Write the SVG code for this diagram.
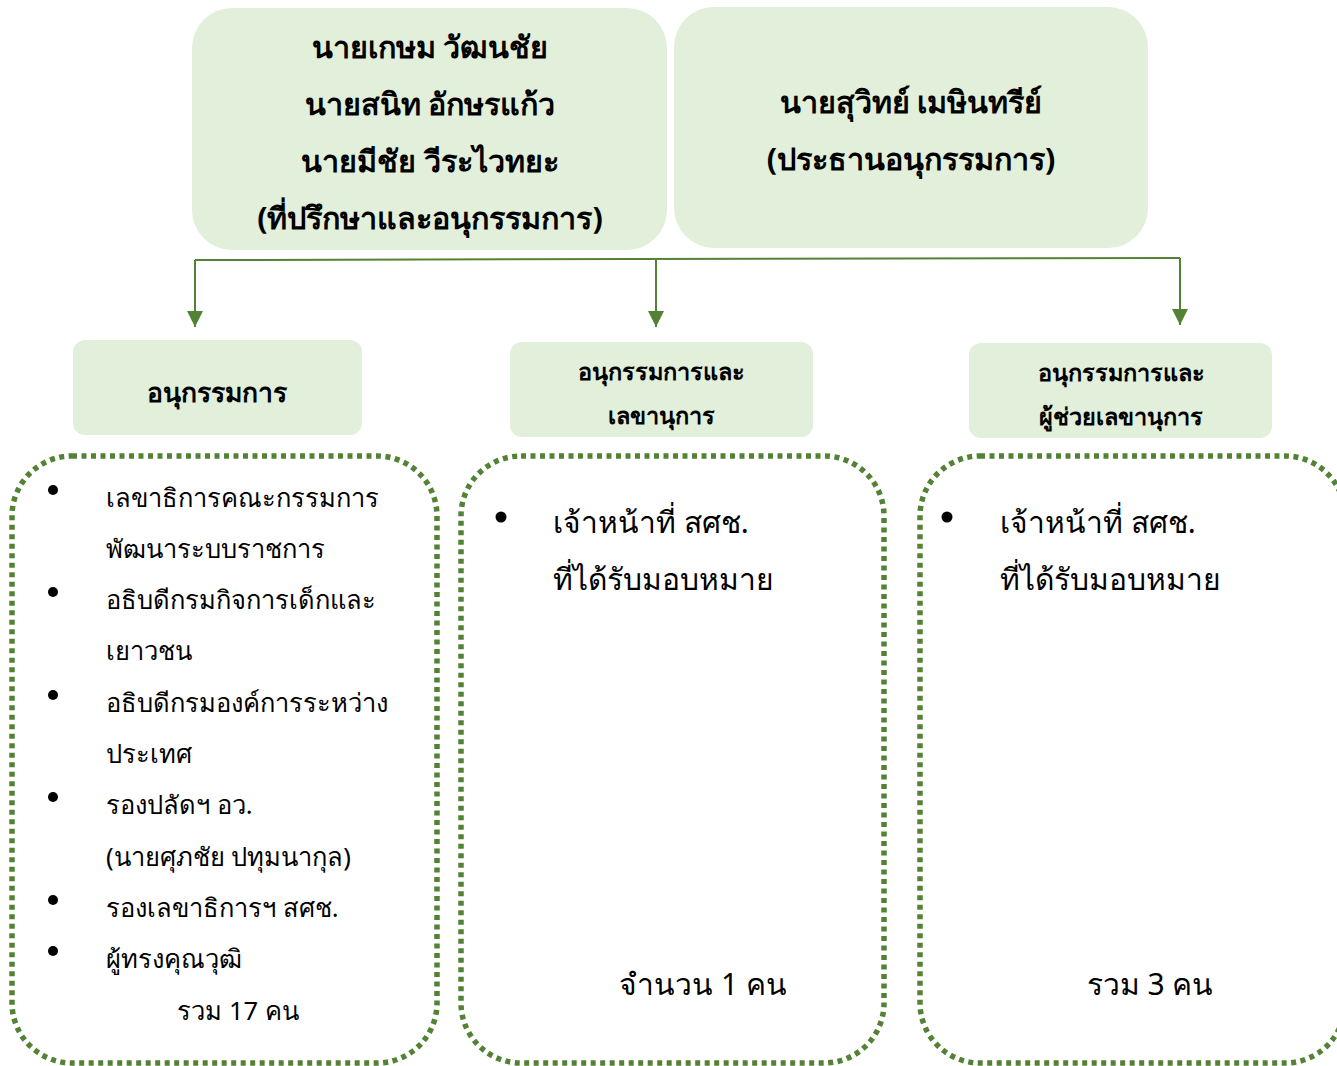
<svg xmlns="http://www.w3.org/2000/svg" width="1337" height="1066" viewBox="0 0 1337 1066">
<defs>
<style>
.top{fill:#e2efda;}
.lbl{fill:#e2efda;}
.dot{fill:none;stroke:#548235;stroke-width:5.5;stroke-dasharray:5 4.5;}
.conn{fill:none;stroke:#548235;stroke-width:2;}
text{font-family:"Noto Sans","DejaVu Sans",sans-serif;fill:#000;}
.tb{font-size:30.5px;font-weight:bold;text-anchor:middle;}
.lb{font-size:23.5px;font-weight:bold;text-anchor:middle;}
.li{font-size:25.5px;}
.mi{font-size:30px;}
</style>
<marker id="ah" viewBox="0 0 10 10" refX="10" refY="5" markerWidth="16" markerHeight="16" markerUnits="userSpaceOnUse" orient="auto">
<path d="M0,0 L10,5 L0,10 Z" fill="#548235"/>
</marker>
</defs>
<rect width="1337" height="1066" fill="#fff"/>
<g id="connectors">
<polyline class="conn" points="195,260 1180,258"/>
<line class="conn" x1="195" y1="260" x2="195" y2="327" marker-end="url(#ah)"/>
<line class="conn" x1="656" y1="260" x2="656" y2="327" marker-end="url(#ah)"/>
<line class="conn" x1="1180" y1="258" x2="1180" y2="325" marker-end="url(#ah)"/>
</g>
<g id="advisors">
<rect class="top" x="192" y="8" width="475" height="242" rx="40"/>
<text class="tb" x="430" y="58">นายเกษม วัฒนชัย</text>
<text class="tb" x="430" y="115">นายสนิท อักษรแก้ว</text>
<text class="tb" x="430" y="172">นายมีชัย วีระไวทยะ</text>
<text class="tb" x="430" y="229">(ที่ปรึกษาและอนุกรรมการ)</text>
</g>
<g id="chair">
<rect class="top" x="674" y="7" width="474" height="241" rx="40"/>
<text class="tb" x="911" y="113">นายสุวิทย์ เมษินทรีย์</text>
<text class="tb" x="911" y="170">(ประธานอนุกรรมการ)</text>
</g>
<g id="members-label">
<rect class="lbl" x="73" y="340" width="289" height="95" rx="12"/>
<text class="lb" x="217" y="402" style="font-size:26.5px">อนุกรรมการ</text>
</g>
<g id="secretary-label">
<rect class="lbl" x="510" y="342" width="303" height="95" rx="12"/>
<text class="lb" x="661" y="380">อนุกรรมการและ</text>
<text class="lb" x="661" y="424">เลขานุการ</text>
</g>
<g id="assistant-label">
<rect class="lbl" x="969" y="343" width="303" height="95" rx="12"/>
<text class="lb" x="1121" y="381">อนุกรรมการและ</text>
<text class="lb" x="1121" y="425">ผู้ช่วยเลขานุการ</text>
</g>
<g id="members-list">
<rect class="dot" x="12" y="456" width="425" height="607" rx="60"/>
<circle cx="53" cy="490" r="5"/>
<text class="li" x="106" y="507">เลขาธิการคณะกรรมการ</text>
<text class="li" x="106" y="558">พัฒนาระบบราชการ</text>
<circle cx="53" cy="592" r="5"/>
<text class="li" x="106" y="609">อธิบดีกรมกิจการเด็กและ</text>
<text class="li" x="106" y="660">เยาวชน</text>
<circle cx="53" cy="695" r="5"/>
<text class="li" x="106" y="712">อธิบดีกรมองค์การระหว่าง</text>
<text class="li" x="106" y="763">ประเทศ</text>
<circle cx="53" cy="797" r="5"/>
<text class="li" x="106" y="814">รองปลัดฯ อว.</text>
<text class="li" x="106" y="866">(นายศุภชัย ปทุมนากุล)</text>
<circle cx="53" cy="900" r="5"/>
<text class="li" x="106" y="917">รองเลขาธิการฯ สศช.</text>
<circle cx="53" cy="951" r="5"/>
<text class="li" x="106" y="968">ผู้ทรงคุณวุฒิ</text>
<text class="li" x="238" y="1020" text-anchor="middle">รวม 17 คน</text>
</g>
<g id="secretary-list">
<rect class="dot" x="461" y="456" width="423" height="607" rx="60"/>
<circle cx="501" cy="517" r="5.5"/>
<text class="mi" x="553" y="533">เจ้าหน้าที่ สศช.</text>
<text class="mi" x="553" y="590">ที่ได้รับมอบหมาย</text>
<text class="mi" x="703" y="995" text-anchor="middle">จำนวน 1 คน</text>
</g>
<g id="assistant-list">
<rect class="dot" x="920" y="456" width="425" height="607" rx="60"/>
<circle cx="947" cy="517" r="5.5"/>
<text class="mi" x="1000" y="533">เจ้าหน้าที่ สศช.</text>
<text class="mi" x="1000" y="590">ที่ได้รับมอบหมาย</text>
<text class="mi" x="1150" y="995" text-anchor="middle">รวม 3 คน</text>
</g>
</svg>
